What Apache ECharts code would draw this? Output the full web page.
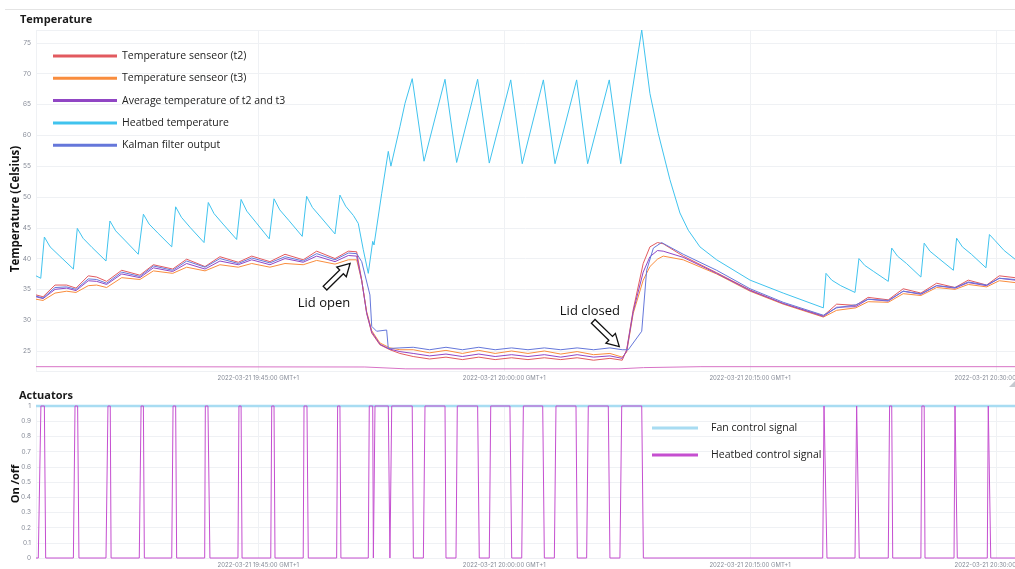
<!DOCTYPE html>
<html><head><meta charset="utf-8">
<script src="https://cdn.jsdelivr.net/npm/echarts@6/dist/echarts.min.js"></script>
<style>html,body{margin:0;padding:0;background:#fff}#c{width:1015px;height:569px}</style>
</head><body><div id="c"></div>
<script>
// ---------- data (time in minutes after 2022-03-21 19:30:00 local) ----------
const xMinMinutes = 1.44;
const xMaxMinutes = 61.16;

const sensorTimes = [
  1.44, 1.87, 2.60, 3.31, 3.88, 4.63, 5.14, 5.75, 6.67, 7.78, 8.60, 9.78, 10.63, 11.75, 12.66, 13.78, 14.60, 15.71, 16.63, 17.74, 18.56, 19.68, 20.49, 21.00,
  21.31, 21.61, 21.92, 22.42, 23.03, 23.64,
  24.45, 25.45, 26.45, 27.45, 28.45, 29.45, 30.45, 31.45, 32.45, 33.45, 34.45, 35.45, 36.45, 37.20,
  37.47, 37.87, 38.48, 38.89, 39.35, 39.70, 40.92, 42.96, 45.00, 47.02, 49.47,
  50.28, 51.45, 52.20, 53.43, 54.34, 55.42, 56.38, 57.50, 58.31, 59.43, 60.20, 61.16
];
const t2Values = [
  34.1, 33.8, 35.7, 35.7, 35.2, 37.2, 37.0, 36.3, 38.1, 37.3, 39.0, 38.3, 39.9, 38.7, 40.3, 39.4, 40.4, 39.5, 40.7, 39.8, 41.2, 40.0, 41.2, 41.1,
  36.5, 31.1, 27.9, 26.0, 25.2, 24.6,
  24.1, 23.7, 24.0, 23.6, 24.0, 23.6, 23.9, 23.6, 23.9, 23.6, 23.9, 23.5, 23.8, 23.5,
  25.2, 31.7, 39.2, 41.9, 42.6, 42.4, 40.4, 37.7, 34.9, 32.7, 30.7,
  32.6, 32.4, 33.7, 33.3, 35.1, 34.4, 36.0, 35.3, 36.5, 35.7, 37.2, 36.9
];
const t3Values = [
  33.4, 33.2, 34.4, 34.7, 34.5, 35.6, 35.7, 35.3, 36.9, 36.6, 38.0, 37.6, 38.6, 38.0, 39.0, 38.6, 39.2, 38.6, 39.2, 39.0, 39.7, 39.1, 39.8, 39.8,
  36.4, 31.4, 28.3, 26.3, 25.5, 25.2,
  25.2, 24.7, 25.1, 24.6, 25.1, 24.6, 25.0, 24.6, 25.0, 24.5, 24.9, 24.4, 24.6, 24.0,
  24.8, 31.1, 36.5, 38.7, 39.9, 40.4, 39.8, 37.5, 34.7, 32.6, 30.5,
  31.6, 32.0, 33.0, 32.9, 34.3, 34.0, 35.3, 35.0, 35.8, 35.4, 36.4, 36.1
];
const avgValues = [
  33.8, 33.5, 35.0, 35.2, 34.8, 36.4, 36.3, 35.8, 37.5, 36.9, 38.5, 37.9, 39.2, 38.3, 39.6, 39.0, 39.8, 39.0, 40.0, 39.4, 40.4, 39.5, 40.5, 40.4,
  36.4, 31.2, 28.1, 26.1, 25.3, 24.9,
  24.6, 24.2, 24.5, 24.1, 24.5, 24.1, 24.4, 24.1, 24.4, 24.0, 24.4, 24.0, 24.2, 23.8,
  25.0, 31.4, 37.8, 40.3, 41.3, 41.2, 40.2, 37.6, 34.8, 32.7, 30.6,
  32.1, 32.2, 33.4, 33.1, 34.7, 34.2, 35.6, 35.2, 36.1, 35.6, 36.8, 36.5
];
const kalmanTimes = [
  1.44, 1.87, 2.60, 3.31, 3.88, 4.63, 5.14, 5.75, 6.67, 7.78, 8.60, 9.78, 10.63, 11.75, 12.66, 13.78, 14.60, 15.71, 16.63, 17.74, 18.56, 19.68, 20.49, 21.00,
  21.31, 21.81, 21.92, 22.22, 22.83, 22.93, 23.64,
  24.45, 25.45, 26.45, 27.45, 28.45, 29.45, 30.45, 31.45, 32.45, 33.45, 34.45, 35.45, 36.45, 37.20,
  37.57, 38.39, 38.69, 39.10, 39.60, 40.92, 42.96, 45.00, 47.02, 49.47,
  50.28, 51.45, 52.20, 53.43, 54.34, 55.42, 56.38, 57.50, 58.31, 59.43, 60.20, 61.16
];
const kalmanValues = [
  33.9, 33.6, 35.3, 35.4, 35.0, 36.7, 36.6, 36.0, 37.8, 37.1, 38.8, 38.1, 39.6, 38.6, 40.0, 39.2, 40.1, 39.3, 40.3, 39.6, 40.8, 39.8, 40.9, 40.8,
  39.5, 34.1, 29.0, 28.2, 28.4, 25.4, 25.5,
  25.6, 25.2, 25.6, 25.2, 25.6, 25.2, 25.5, 25.2, 25.5, 25.2, 25.5, 25.2, 25.5, 25.2,
  25.2, 28.2, 38.1, 41.7, 42.6, 40.7, 38.1, 35.1, 32.9, 30.8,
  32.0, 32.5, 33.4, 33.2, 34.7, 34.3, 35.6, 35.3, 36.2, 35.7, 36.8, 36.6
];
const heatbedTimes = [
  1.44, 1.73, 1.95, 2.30, 2.85, 3.72,
  3.96, 4.31, 4.86, 5.71,
  5.95, 6.30, 6.85, 7.68,
  7.99, 8.34, 8.89, 9.72,
  9.96, 10.31, 10.86, 11.69,
  11.95, 12.30, 12.85, 13.68,
  13.95, 14.30, 14.85, 15.67,
  15.96, 16.31, 16.86, 17.68,
  17.95, 18.30, 18.85, 19.68,
  19.98, 20.33, 20.80, 21.10, 21.40, 21.71,
  21.98, 22.06, 22.53, 22.93, 23.09, 23.64, 23.95, 24.39,
  25.11, 26.39, 27.10, 28.38, 29.09, 30.40, 31.10, 32.39, 33.10, 34.42, 35.09, 36.41, 37.11, 38.39,
  38.89, 39.40, 40.11, 40.72, 41.23, 41.94, 42.96, 45.00, 47.02, 49.47,
  49.63, 49.98, 50.53, 51.40,
  51.64, 51.99, 52.54, 53.43,
  53.64, 53.99, 54.54, 55.42,
  55.62, 55.97, 56.52, 57.40,
  57.60, 57.95, 58.50, 59.39,
  59.60, 59.95, 60.50, 61.16
];
const heatbedValues = [
  37.2, 36.8, 43.5, 41.9, 40.5, 38.3,
  44.9, 43.3, 41.8, 39.6,
  46.1, 44.5, 43.0, 40.7,
  47.2, 45.6, 44.1, 41.9,
  48.4, 46.7, 45.0, 42.6,
  49.1, 47.3, 45.6, 43.1,
  49.6, 47.7, 45.9, 43.2,
  49.7, 47.9, 46.2, 43.6,
  50.1, 48.3, 46.6, 44.0,
  50.3, 48.5, 47.0, 45.7, 41.5, 37.6,
  42.8, 42.2, 50.6, 57.4, 55.0, 61.4, 65.2, 69.2,
  55.8, 69.1, 55.6, 69.1, 55.5, 69.0, 55.4, 69.0, 55.4, 69.0, 55.4, 69.0, 55.4, 77.1,
  66.8, 60.3, 52.8, 47.4, 44.6, 41.9, 39.8, 36.5, 34.4, 32.0,
  37.6, 36.5, 35.6, 34.5,
  40.0, 38.9, 37.9, 36.3,
  41.7, 40.4, 39.2, 37.0,
  42.5, 41.2, 40.0, 38.1,
  43.3, 41.9, 40.7, 38.5,
  43.9, 42.9, 41.3, 39.9
];
const ambientTimes = [1.44, 21.5, 24.0, 37.0, 38.5, 42.0, 61.16];
const ambientValues = [22.45, 22.4, 22.1, 22.1, 22.3, 22.45, 22.45];

const fanTimes = [1.44, 61.16];
const fanValues = [1, 1];
const ctrlTimes = [
  1.44, 1.58, 1.74, 1.95, 2.03,
  3.72, 3.82, 3.98, 4.06,
  5.71, 5.83, 5.97, 6.02,
  7.74, 7.85, 7.99, 8.05,
  9.72, 9.80, 9.96, 10.02,
  11.73, 11.77, 11.93, 12.05,
  13.76, 13.82, 13.95, 14.01,
  15.76, 15.82, 15.96, 16.02,
  17.74, 17.79, 17.97, 18.05,
  19.78, 19.84, 19.98, 20.04,
  21.71, 21.77, 21.98, 22.02,
  22.06, 22.12, 22.93, 23.03,
  23.14, 24.39, 24.46,
  25.07, 25.17, 26.39, 26.45,
  27.06, 27.14, 28.38, 28.48,
  29.09, 29.18, 30.35, 30.46,
  31.07, 31.17, 32.35, 32.45,
  33.06, 33.16, 34.38, 34.46,
  35.03, 35.13, 36.35, 36.45,
  37.06, 37.17, 38.39, 38.49,
  49.43, 49.51, 49.63, 49.69,
  51.40, 51.50, 51.60, 51.66,
  53.43, 53.51, 53.64, 53.70,
  55.42, 55.48, 55.62, 55.67,
  57.44, 57.50, 57.60, 57.64,
  59.47, 59.53, 59.62, 59.68,
  61.16
];
const ctrlValues = [
  0, 0, 1, 1, 0,
  0, 1, 1, 0,
  0, 1, 1, 0,
  0, 1, 1, 0,
  0, 1, 1, 0,
  0, 1, 1, 0,
  0, 1, 1, 0,
  0, 1, 1, 0,
  0, 1, 1, 0,
  0, 1, 1, 0,
  0, 1, 1, 0,
  0, 1, 1, 0,
  1, 1, 0,
  0, 1, 1, 0,
  0, 1, 1, 0,
  0, 1, 1, 0,
  0, 1, 1, 0,
  0, 1, 1, 0,
  0, 1, 1, 0,
  0, 1, 1, 0,
  0, 1, 1, 0,
  0, 1, 1, 0,
  0, 1, 1, 0,
  0, 1, 1, 0,
  0, 1, 1, 0,
  0, 1, 1, 0,
  0
];

const topNames = ['Temperature senseor (t2)', 'Temperature senseor (t3)', 'Average temperature of t2 and t3', 'Heatbed temperature', 'Kalman filter output'];
const bottomNames = ['Fan control signal', 'Heatbed control signal'];

// annotations: label, text position, arrow tail, arrow tip (minutes, °C)
const annotationLabels = ['Lid open', 'Lid closed'];
const annotationTextAt = [[19.01, 32.8], [35.23, 31.5]];
const annotationTail = [[19.07, 35.2], [35.43, 29.8]];
const annotationTip = [[20.60, 39.2], [37.02, 25.7]];

// ---------- helpers ----------
const BASE = new Date(2022, 2, 21, 19, 30, 0).getTime();
const toTime = m => BASE + m * 60000;
const pairs = (times, values) => times.map((m, i) => [toTime(m), values[i]]);
const p2 = n => String(n).padStart(2, '0');
function fmtTime(v) {
  const d = new Date(v);
  return d.getFullYear() + '-' + p2(d.getMonth() + 1) + '-' + p2(d.getDate()) + ' ' +
    p2(d.getHours()) + ':' + p2(d.getMinutes()) + ':' + p2(d.getSeconds()) + ' GMT+1';
}

const tickFont = 'Inter, "DejaVu Sans", sans-serif';
const textFont = '"Open Sans", "Noto Sans", sans-serif';
const gridColor = '#eff1f4';
const labelColor = '#878c98';

function xAxisFor(gi, margin) {
  return {
    type: 'time', gridIndex: gi, min: toTime(xMinMinutes), max: toTime(xMaxMinutes), splitNumber: 3,
    axisLine: { show: false }, axisTick: { show: false },
    splitLine: { show: true, lineStyle: { color: gridColor, width: 1 } },
    axisLabel: { formatter: fmtTime, fontSize: 6, color: labelColor, fontFamily: tickFont, margin: margin, hideOverlap: false }
  };
}

function lineSeries(name, times, values, color, xi, width, extra) {
  return Object.assign({
    name: name, type: 'line', xAxisIndex: xi, yAxisIndex: xi,
    data: pairs(times, values), showSymbol: false, symbol: 'none',
    itemStyle: { color: color }, lineStyle: { color: color, width: width || 1 },
    emphasis: { disabled: true }, silent: true, animation: false
  }, extra || {});
}

const chart = echarts.init(document.getElementById('c'), null, { renderer: 'canvas' });
chart.setOption({
  animation: false,
  backgroundColor: '#ffffff',
  grid: [
    { left: 36, right: 0, top: 30, bottom: 198, containLabel: false, outerBoundsMode: 'none' },
    { left: 36, right: 0, top: 406, bottom: 11, containLabel: false, outerBoundsMode: 'none' }
  ],
  xAxis: [xAxisFor(0, 4), xAxisFor(1, 4)],
  yAxis: [
    {
      type: 'value', gridIndex: 0, min: 21.75, max: 77.1, splitNumber: 11,
      axisLine: { show: false }, axisTick: { show: false },
      axisLabel: { fontSize: 6.5, color: labelColor, fontFamily: tickFont, margin: 5, showMinLabel: false, showMaxLabel: false },
      splitLine: { lineStyle: { color: gridColor } }
    },
    {
      type: 'value', gridIndex: 1, min: 0, max: 1, interval: 0.1,
      axisLine: { show: false }, axisTick: { show: false },
      axisLabel: { fontSize: 6.5, color: labelColor, fontFamily: tickFont, margin: 5 },
      splitLine: { lineStyle: { color: gridColor } }
    }
  ],
  legend: [
    {
      data: topNames, orient: 'vertical', left: 53, top: 49, padding: 0, itemWidth: 64, itemHeight: 3, itemGap: 8.3,
      icon: 'rect', selectedMode: false,
      textStyle: { fontSize: 10.5, lineHeight: 14, color: '#222', fontFamily: textFont }
    },
    {
      data: bottomNames, orient: 'vertical', left: 652, top: 421, padding: 0, itemWidth: 46, itemHeight: 3, itemGap: 13,
      icon: 'rect', selectedMode: false,
      textStyle: { fontSize: 10.5, lineHeight: 14, color: '#222', fontFamily: textFont, padding: [0, 0, 0, 8] }
    }
  ],
  series: [
    lineSeries('Ambient', ambientTimes, ambientValues, '#d873c6', 0, 1),
    lineSeries(topNames[3], heatbedTimes, heatbedValues, '#40c3ee', 0, 1),
    lineSeries(topNames[0], sensorTimes, t2Values, '#e25a5f', 0, 1),
    lineSeries(topNames[1], sensorTimes, t3Values, '#f98d3e', 0, 1),
    lineSeries(topNames[2], sensorTimes, avgValues, '#9146c4', 0, 1),
    lineSeries(topNames[4], kalmanTimes, kalmanValues, '#6577da', 0, 1),
    lineSeries(bottomNames[0], fanTimes, fanValues, '#a8dcf2', 1, 2.5, { clip: false }),
    lineSeries(bottomNames[1], ctrlTimes, ctrlValues, '#c54fd0', 1, 1, { clip: false })
  ]
});

// ---------- annotations & static texts ----------
function arrowPoints(a, b) {
  const dx = b[0] - a[0], dy = b[1] - a[1];
  const L = Math.sqrt(dx * dx + dy * dy);
  const ux = dx / L, uy = dy / L, nx = -uy, ny = ux;
  const sw = 2.6, hw = 6.8, hl = 12;
  const nk = [b[0] - ux * hl, b[1] - uy * hl];
  return [
    [a[0] + nx * sw, a[1] + ny * sw],
    [nk[0] + nx * sw, nk[1] + ny * sw],
    [nk[0] + nx * hw, nk[1] + ny * hw],
    [b[0], b[1]],
    [nk[0] - nx * hw, nk[1] - ny * hw],
    [nk[0] - nx * sw, nk[1] - ny * sw],
    [a[0] - nx * sw, a[1] - ny * sw]
  ];
}
const px = d => chart.convertToPixel({ gridIndex: 0 }, [toTime(d[0]), d[1]]);
const elements = [
  { type: 'line', shape: { x1: 5, y1: 9.5, x2: 1015, y2: 9.5 }, style: { stroke: '#e4e4e4', lineWidth: 1 }, silent: true },
  { type: 'text', left: 20, top: 14, style: { text: 'Temperature', font: 'bold 11px ' + textFont, fill: '#1a1a1a' }, silent: true },
  { type: 'text', left: 19, top: 390, style: { text: 'Actuators', font: 'bold 11px ' + textFont, fill: '#1a1a1a' }, silent: true },
  { type: 'text', x: 16, y: 209, rotation: Math.PI / 2, style: { text: 'Temperature (Celsius)', font: 'bold 11.5px ' + textFont, fill: '#111', align: 'center', verticalAlign: 'middle' }, silent: true },
  { type: 'text', x: 16, y: 484, rotation: Math.PI / 2, style: { text: 'On /off', font: 'bold 11px ' + textFont, fill: '#111', align: 'center', verticalAlign: 'middle' }, silent: true },
  { type: 'polygon', shape: { points: [[1015, 381], [1015, 387], [1009, 387]] }, style: { fill: '#c5c9cf' }, silent: true }
];
annotationLabels.forEach((lab, i) => {
  const t = px(annotationTextAt[i]);
  elements.push({ type: 'text', x: t[0], y: t[1], style: { text: lab, font: '13px ' + textFont, fill: '#111', align: 'center', verticalAlign: 'middle' }, silent: true, z: 100 });
  elements.push({ type: 'polygon', shape: { points: arrowPoints(px(annotationTail[i]), px(annotationTip[i])) }, style: { fill: '#fff', stroke: '#111', lineWidth: 1.3, lineJoin: 'miter' }, silent: true, z: 100 });
});
chart.setOption({ graphic: { elements: elements } });
</script></body></html>
